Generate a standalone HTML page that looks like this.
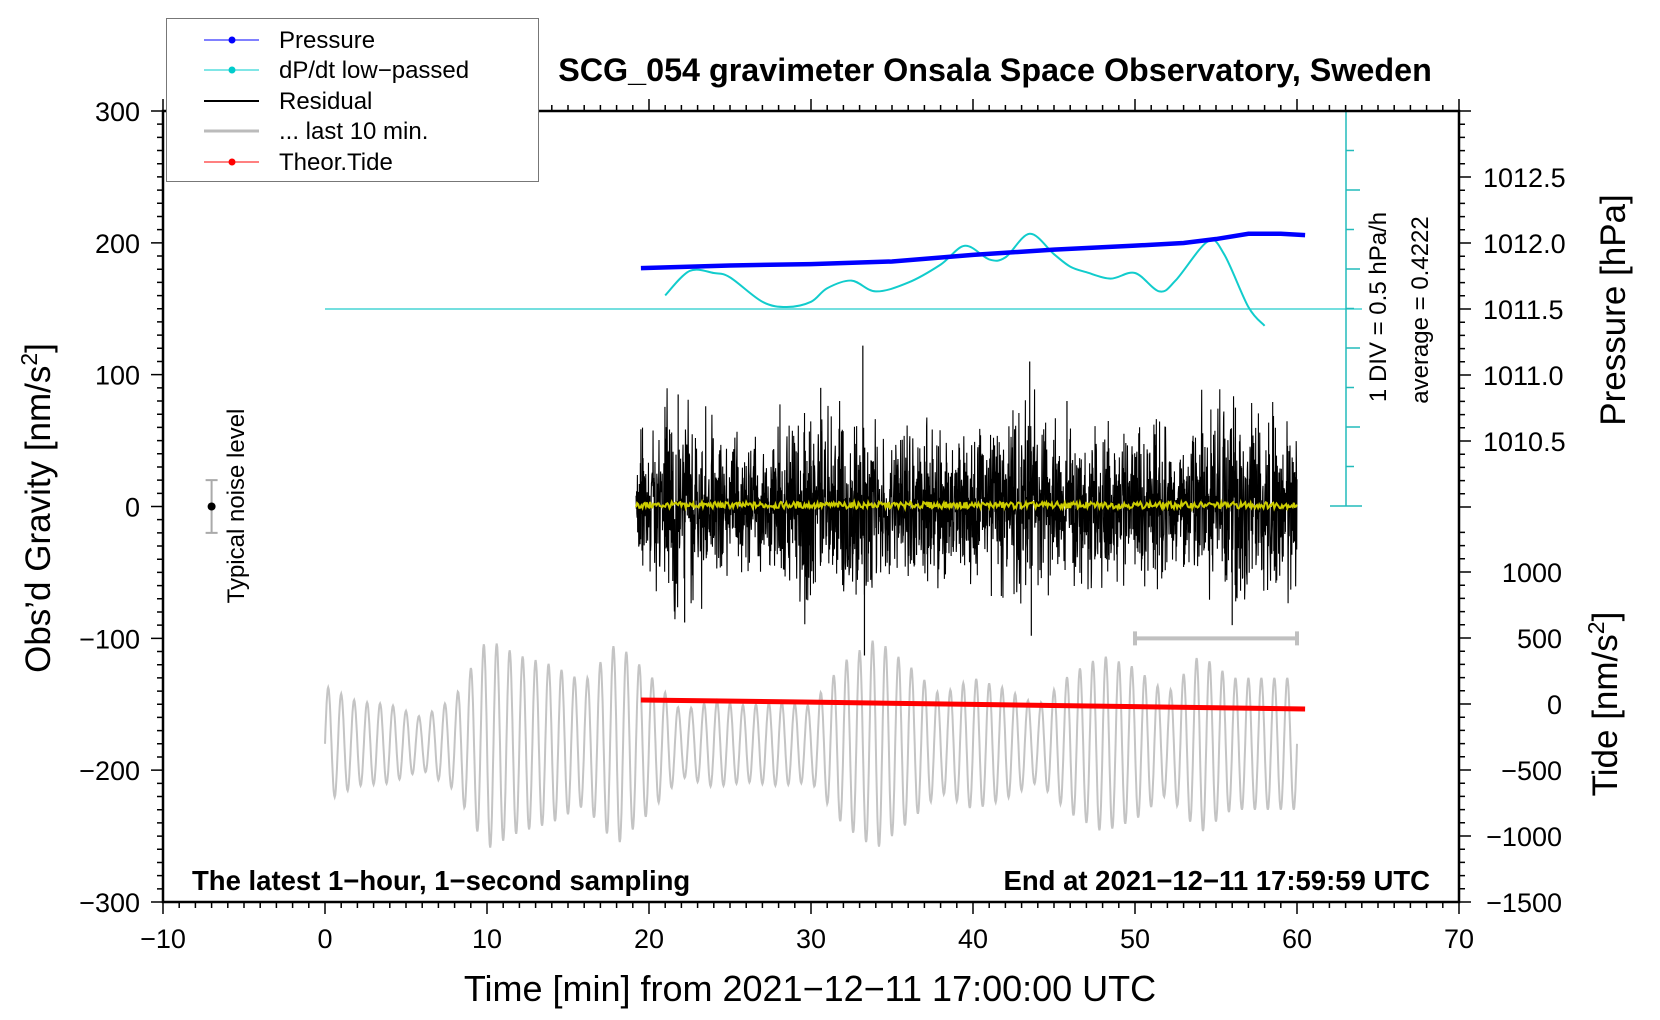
<!DOCTYPE html>
<html><head><meta charset="utf-8"><style>
body{margin:0;background:#fff}
svg{display:block;font-family:"Liberation Sans",sans-serif}
</style></head><body>
<svg id="c" width="1660" height="1020" viewBox="0 0 1660 1020" xmlns="http://www.w3.org/2000/svg">
<rect x="0" y="0" width="1660" height="1020" fill="#fff"/>
<g id="marks"></g>
<g id="axes"></g>
<text x="995" y="81" font-size="32.3" font-weight="bold" text-anchor="middle">SCG_054 gravimeter Onsala Space Observatory, Sweden</text>
<text x="192" y="890" font-size="27.5" font-weight="bold">The latest 1−hour, 1−second sampling</text>
<text x="1430" y="890" font-size="27.5" font-weight="bold" text-anchor="end">End at 2021−12−11 17:59:59 UTC</text>
<text x="810" y="1001" font-size="36" text-anchor="middle">Time [min] from 2021−12−11 17:00:00 UTC</text>
<text transform="translate(50,508) rotate(-90)" font-size="35" text-anchor="middle">Obs’d Gravity [nm/s<tspan font-size="23" dy="-13">2</tspan><tspan dy="13">]</tspan></text>
<text transform="translate(1625,310) rotate(-90)" font-size="35" text-anchor="middle">Pressure [hPa]</text>
<text transform="translate(1617,704) rotate(-90)" font-size="35" text-anchor="middle">Tide [nm/s<tspan font-size="23" dy="-13">2</tspan><tspan dy="13">]</tspan></text>
<text transform="translate(1386,307) rotate(-90)" font-size="24" text-anchor="middle">1 DIV = 0.5 hPa/h</text>
<text transform="translate(1428,310) rotate(-90)" font-size="24" text-anchor="middle">average = 0.4222</text>
<text transform="translate(244,506) rotate(-90)" font-size="24" text-anchor="middle">Typical noise level</text>
<g>
<rect x="166.5" y="18.5" width="372" height="163" fill="#fff" stroke="#777" stroke-width="1"/>
<g><line x1="204" y1="40" x2="259" y2="40" stroke="#00f" stroke-width="1"/><circle cx="232" cy="40" r="3.5" fill="#00f"/><text x="279" y="48" font-size="24">Pressure</text></g>
<g><line x1="204" y1="70" x2="259" y2="70" stroke="#0cc" stroke-width="1"/><circle cx="232" cy="70" r="3.5" fill="#0cc"/><text x="279" y="78" font-size="24">dP/dt low−passed</text></g>
<g><line x1="204" y1="101" x2="259" y2="101" stroke="#000" stroke-width="2"/><text x="279" y="109" font-size="24">Residual</text></g>
<g><line x1="204" y1="131" x2="259" y2="131" stroke="#bbb" stroke-width="3"/><text x="279" y="139" font-size="24">... last 10 min.</text></g>
<g><line x1="204" y1="162" x2="259" y2="162" stroke="#f00" stroke-width="1"/><circle cx="232" cy="162" r="3.5" fill="#f00"/><text x="279" y="170" font-size="24">Theor.Tide</text></g>
</g>
</svg>
<script>
// ---- data ----
const xTicks=[-10,0,10,20,30,40,50,60,70];
const yTicks=[-300,-200,-100,0,100,200,300];
const pTicks=[1010.5,1011.0,1011.5,1012.0,1012.5];
const tTicks=[-1500,-1000,-500,0,500,1000];
const pressMin=[19.5,25,30,35,40,45,50,53,55,57,59,60.5];
const pressVal=[1011.81,1011.83,1011.84,1011.86,1011.91,1011.95,1011.98,1012.0,1012.03,1012.07,1012.07,1012.06];
const dpMin=[21,22.5,24,25,27,28.5,30,31,32.5,34,36,38,39.5,41,42,43.5,45,46,47,48.5,50,51.5,52.5,54.5,55.5,57,58];
const dpVal=[0.17,0.475,0.45,0.395,0.09,0.025,0.09,0.26,0.355,0.22,0.33,0.555,0.79,0.62,0.645,0.94,0.685,0.53,0.46,0.38,0.45,0.22,0.355,0.845,0.685,0.025,-0.21];
const resEnvMin=[19.2,21,23,25,27,29,31,33,35,37,39,41,43,45,47,49,51,53,55,57,60];
const resEnv=[36,63,53,46,41,61,58,61,38,53,46,48,73,46,46,53,48,41,65,56,56];
const spikeMin=[21.8,22.2,30.6,33.2,33.3,43.5,43.6,45.8,56.0,56.2];
const spikeVal=[85,-88,90,122,-113,110,-98,80,-90,75];
const grayEnvMin=[0,2,4,6,8,10,12,14,16,18,20,22,24,26,28,30,32,34,36,38,40,42,44,46,48,50,52,54,56,58,60];
const grayEnv=[44,32,30,20,35,80,67,60,47,77,53,25,33,29,32,29,62,80,60,37,50,42,29,53,67,58,38,68,50,50,50];
const grayCenter=-180;
const tideMin=[19.5,30,40,50,60.5];
const tideVal=[30,14,-3,-20,-38];

// ---- scales ----
const X0=163,X1=1459,Y0=111,Y1=902;
const sx=m=>X0+(m+10)*(X1-X0)/80;
const sy=v=>Y1-(v+300)*(Y1-Y0)/600;
const sp=p=>177+(1012.5-p)*132;
const st=t=>704-t*0.132;
const sd=d=>309-d*80;
const NS="http://www.w3.org/2000/svg";
const marks=document.getElementById('marks'),axes=document.getElementById('axes');
function mk(tag,at,parent){const e=document.createElementNS(NS,tag);for(const k in at)e.setAttribute(k,at[k]);(parent||marks).appendChild(e);return e;}
function interp(xs,ys,x){if(x<=xs[0])return ys[0];for(let i=1;i<xs.length;i++){if(x<=xs[i]){const f=(x-xs[i-1])/(xs[i]-xs[i-1]);return ys[i-1]+f*(ys[i]-ys[i-1]);}}return ys[ys.length-1];}
// deterministic texture hash in [-1,1]
function hsh(k){const s=Math.sin(k*12.9898+78.233)*43758.5453;return 2*(s-Math.floor(s))-1;}
function tex(k){return (hsh(k)+hsh(k+7919)+hsh(k+15331))/1.8;}

// cyan zero line
let e=mk('line',{x1:sx(0),y1:309,x2:1362,y2:309,stroke:'#2cc',"stroke-width":1.3});



// gray series (last 10 min)
let gd='';
for(let s=0;s<=3600;s+=2){const m=s/60;const a=interp(grayEnvMin,grayEnv,m);const v=grayCenter+a*Math.sin(2*Math.PI*m/0.8);gd+=(s?'L':'M')+sx(m).toFixed(1)+' '+sy(v).toFixed(1);}
e=mk('path',{d:gd,fill:'none',stroke:'#c4c4c4',"stroke-width":2});



// residual
let rd='';let k=0;
for(let s=Math.round(19.2*60);s<=3600;s++){const m=s/60;const a=interp(resEnvMin,resEnv,m);const v=a*tex(k);rd+=(k?'L':'M')+sx(m).toFixed(2)+' '+sy(v).toFixed(1);k++;}
e=mk('path',{d:rd,fill:'none',stroke:'#000',"stroke-width":1.1});


spikeMin.forEach((m,i)=>{const l=mk('line',{x1:sx(m),y1:sy(0),x2:sx(m),y2:sy(spikeVal[i]),stroke:'#000',"stroke-width":1.2});

});
// yellow low-passed residual
let yd='';k=0;
for(let s=Math.round(19.2*60);s<=3600;s+=4){const m=s/60;const v=1+2.5*hsh(k+333);yd+=(k?'L':'M')+sx(m).toFixed(1)+' '+sy(v).toFixed(1);k++;}
e=mk('path',{d:yd,fill:'none',stroke:'#cccc00',"stroke-width":2});



// dP/dt curve (catmull-rom)
let pts=dpMin.map((m,i)=>[sx(m),sd(dpVal[i])]);
let dd='M'+pts[0][0]+' '+pts[0][1];
for(let i=0;i<pts.length-1;i++){const p0=pts[Math.max(i-1,0)],p1=pts[i],p2=pts[i+1],p3=pts[Math.min(i+2,pts.length-1)];
dd+=' C'+(p1[0]+(p2[0]-p0[0])/6)+' '+(p1[1]+(p2[1]-p0[1])/6)+' '+(p2[0]-(p3[0]-p1[0])/6)+' '+(p2[1]-(p3[1]-p1[1])/6)+' '+p2[0]+' '+p2[1];}
e=mk('path',{d:dd,fill:'none',stroke:'#1cc',"stroke-width":2});



// pressure
e=mk('polyline',{points:pressMin.map((m,i)=>sx(m)+','+sp(pressVal[i])).join(' '),fill:'none',stroke:'#00f',"stroke-width":4.5});


// tide
e=mk('polyline',{points:tideMin.map((m,i)=>sx(m)+','+st(tideVal[i])).join(' '),fill:'none',stroke:'#f00',"stroke-width":5});



// noise bar
e=mk('path',{d:`M${sx(-7)} ${sy(20)}V${sy(-20)}M${sx(-7)-6} ${sy(20)}h12M${sx(-7)-6} ${sy(-20)}h12`,stroke:'#aaa',"stroke-width":2,fill:'none'});


e=mk('circle',{cx:sx(-7),cy:sy(0),r:4,fill:'#000'});


// last 10 min bar
e=mk('path',{d:`M${sx(50)} ${sy(-100)}H${sx(60)}M${sx(50)} ${sy(-100)-7}v14M${sx(60)} ${sy(-100)-7}v14`,stroke:'#c0c0c0',"stroke-width":4,fill:'none'});



// cyan DIV axis
let cd=`M1346 111V506M1330 111h32M1330 506h32`;
for(let i=1;i<10;i++){cd+=`M1346 ${111+i*39.5}h${i%2?8:14}`;}
e=mk('path',{d:cd,stroke:'#2bb',"stroke-width":1.5,fill:'none'});



// frame & ticks
e=mk('rect',{x:X0,y:Y0,width:X1-X0,height:Y1-Y0,fill:'none',stroke:'#000',"stroke-width":2.5},axes);


let td='';
for(let m=-10;m<=70;m++){const L=m%10===0?12:6;td+=`M${sx(m)} ${Y1}v${L}M${sx(m)} ${Y0}v${-L}`;}
for(let v=-300;v<=300;v+=10){const L=v%100===0?12:6;td+=`M${X0} ${sy(v)}h${-L}`;}
for(let p=1010.0;p<=1013.01;p+=0.1){const y=sp(p);if(y<Y0-0.5)continue;const L=Math.abs(p*2-Math.round(p*2))<0.01?12:6;td+=`M${X1} ${y}h${L}`;}
for(let t=-1500;t<=1300;t+=100){const L=t%500===0?12:6;td+=`M${X1} ${st(t)}h${L}`;}
e=mk('path',{d:td,stroke:'#000',"stroke-width":1.5,fill:'none'},axes);


xTicks.forEach(m=>{const t=mk('text',{x:sx(m),y:948,"font-size":27,"text-anchor":"middle"},axes);t.textContent=m<0?'−'+(-m):m;

});
yTicks.forEach(v=>{const t=mk('text',{x:140,y:sy(v)+10,"font-size":27,"text-anchor":"end"},axes);t.textContent=v<0?'−'+(-v):v;

});
pTicks.forEach(p=>{const t=mk('text',{x:1483,y:sp(p)+10,"font-size":27},axes);t.textContent=p.toFixed(1);

});
tTicks.forEach(v=>{const t=mk('text',{x:1562,y:st(v)+10,"font-size":27,"text-anchor":"end"},axes);t.textContent=v<0?'−'+(-v):v;

});
</script>
</body></html>
